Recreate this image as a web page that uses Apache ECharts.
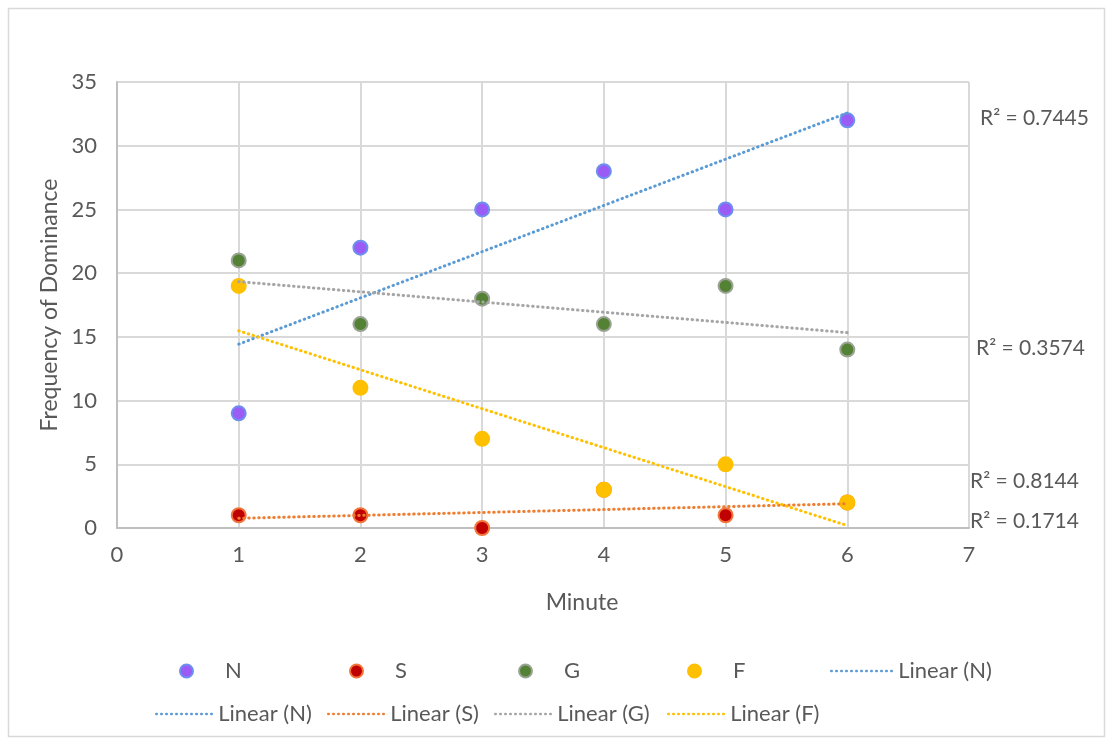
<!DOCTYPE html>
<html>
<head>
<meta charset="utf-8">
<script src="https://cdn.jsdelivr.net/npm/echarts@6/dist/echarts.min.js"></script>
<style>html,body{margin:0;padding:0;background:#fff}#c{width:1107px;height:740px}</style>
</head>
<body>
<div id="c"></div>
<script>
// ---- data ----
const minutes = [1, 2, 3, 4, 5, 6];
const seriesNames = ['N', 'S', 'G', 'F'];
const valuesN = [9, 22, 25, 28, 25, 32];
const valuesS = [1, 1, 0, 3, 1, 2];
const valuesG = [21, 16, 18, 16, 19, 14];
const valuesF = [19, 11, 7, 3, 5, 2];
const xTicks = [0, 1, 2, 3, 4, 5, 6, 7];
const yTicks = [0, 5, 10, 15, 20, 25, 30, 35];

// ---- styles ----
const FONT = 'Lato';
const FS = 22;
const TXT = '#595959';
const markerStyle = {
  N: { color: '#9b5cf6', borderColor: '#6d8ff0', borderWidth: 2, opacity: 1 },
  S: { color: '#c00000', borderColor: '#f2743a', borderWidth: 2, opacity: 1 },
  G: { color: '#548235', borderColor: '#9aa394', borderWidth: 2, opacity: 1 },
  F: { color: '#ffc000', borderColor: '#ffc000', borderWidth: 2, opacity: 1 }
};
const trendColor = { N: '#5b9bd5', S: '#ed7d31', G: '#a5a5a5', F: '#ffc000' };
const dataMap = { N: valuesN, S: valuesS, G: valuesG, F: valuesF };

// least-squares linear trendline (as Excel does)
function fit(xs, ys) {
  const n = xs.length;
  const mx = xs.reduce((a, b) => a + b, 0) / n;
  const my = ys.reduce((a, b) => a + b, 0) / n;
  let sxy = 0, sxx = 0, syy = 0;
  for (let i = 0; i < n; i++) {
    sxy += (xs[i] - mx) * (ys[i] - my);
    sxx += (xs[i] - mx) ** 2;
    syy += (ys[i] - my) ** 2;
  }
  const slope = sxy / sxx;
  return { slope, intercept: my - slope * mx, r2: (sxy * sxy) / (sxx * syy) };
}

const series = [];
seriesNames.forEach(k => {
  series.push({
    name: k, type: 'scatter', symbol: 'circle', symbolSize: 14,
    itemStyle: markerStyle[k], z: 2,
    emphasis: { disabled: true },
    data: minutes.map((m, i) => [m, dataMap[k][i]])
  });
});
const fits = {};
seriesNames.forEach(k => {
  const f = fit(minutes, dataMap[k]);
  fits[k] = f;
  const x0 = minutes[0], x1 = minutes[minutes.length - 1];
  series.push({
    name: 'Linear (' + k + ')', type: 'line', symbol: 'none', z: 3,
    lineStyle: { color: trendColor[k], width: 3, type: [0.5, 4.5], cap: 'round' },
    itemStyle: { color: trendColor[k] },
    emphasis: { disabled: true },
    data: [[x0, f.intercept + f.slope * x0], [x1, f.intercept + f.slope * x1]]
  });
});

// legends (positioned like the reference, two rows)
function scatterLegend(name, left) {
  return {
    data: [name], left: left, top: 655, itemWidth: 13, itemHeight: 13,
    icon: 'circle', selectedMode: false,
    textStyle: { fontFamily: FONT, fontSize: FS, color: TXT, padding: [0, 0, 0, 27] }
  };
}
function lineLegend(name, left, top, w) {
  return {
    data: [name], left: left, top: top, itemWidth: w, itemHeight: 14, selectedMode: false,
    itemStyle: { opacity: 0 },
    lineStyle: { width: 2.5 },
    textStyle: { fontFamily: FONT, fontSize: FS, color: TXT }
  };
}
const legends = [
  scatterLegend('N', 174), scatterLegend('S', 344), scatterLegend('G', 513), scatterLegend('F', 682),
  lineLegend('Linear (N)', 825, 655, 62),
  lineLegend('Linear (N)', 150, 698, 57), lineLegend('Linear (S)', 322, 698, 57),
  lineLegend('Linear (G)', 489, 698, 57), lineLegend('Linear (F)', 662, 698, 57)
];

const r2Pos = { N: [980, 118], G: [976, 348], F: [970, 481], S: [970, 521] };
const graphics = [
  { type: 'rect', left: 6, top: 6, shape: { width: 1096, height: 728 }, style: { fill: 'none', stroke: '#d9d9d9', lineWidth: 1.5 }, silent: true }
];
seriesNames.forEach(k => {
  graphics.push({
    type: 'text', x: r2Pos[k][0], y: r2Pos[k][1],
    style: { text: 'R² = ' + fits[k].r2.toFixed(4), fill: TXT, font: (FS - 1) + 'px "' + FONT + '"', verticalAlign: 'middle' }
  });
});

const chart = echarts.init(document.getElementById('c'), null, { renderer: 'canvas' });
chart.setOption({
  backgroundColor: '#fff',
  animation: false,
  grid: { left: 117, right: 138, top: 82, bottom: 212, containLabel: false },
  xAxis: {
    type: 'value', min: xTicks[0], max: xTicks[xTicks.length - 1], interval: 1,
    name: 'Minute', nameLocation: 'middle', nameGap: 63,
    nameTextStyle: { fontFamily: FONT, fontSize: FS + 1, color: TXT, padding: [0, 0, 0, 78] },
    axisLine: { show: true, onZero: false, lineStyle: { color: '#bfbfbf', width: 2 } },
    axisTick: { show: false },
    axisLabel: { fontFamily: FONT, fontSize: FS, color: TXT, margin: 16 },
    splitLine: { show: true, lineStyle: { color: '#d9d9d9', width: 2 } }
  },
  yAxis: {
    type: 'value', min: yTicks[0], max: yTicks[yTicks.length - 1], interval: 5,
    name: 'Frequency of Dominance', nameLocation: 'middle', nameGap: 52,
    nameTextStyle: { fontFamily: FONT, fontSize: FS + 1, color: TXT },
    axisLine: { show: true, lineStyle: { color: '#bfbfbf', width: 2 } },
    axisTick: { show: false },
    axisLabel: { fontFamily: FONT, fontSize: FS, color: TXT, margin: 20 },
    splitLine: { show: true, lineStyle: { color: '#d9d9d9', width: 2 } }
  },
  legend: legends,
  graphic: graphics,
  series: series
});
</script>
</body>
</html>
